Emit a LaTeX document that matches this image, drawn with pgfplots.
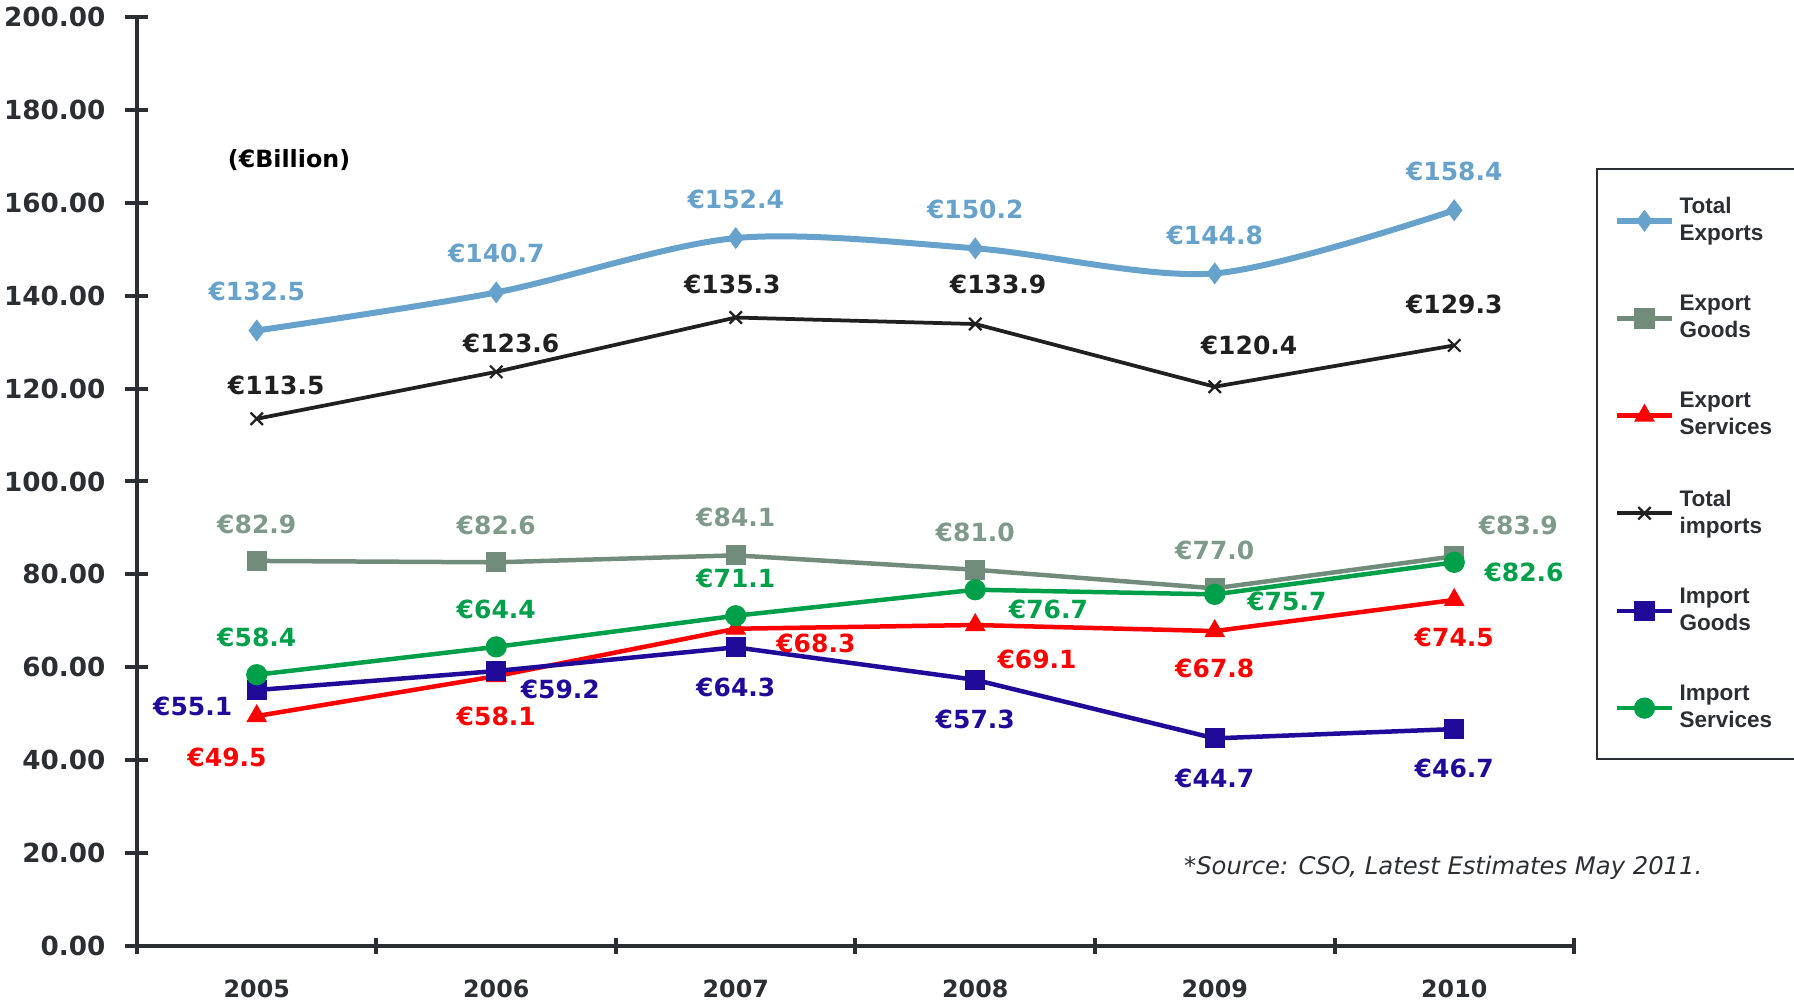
\documentclass[border=0pt]{standalone}
\usepackage{pgfplots}
\pgfplotsset{compat=1.18}
\usepackage{pgfplotstable}
\usepackage{fontspec}
\setmainfont{DejaVu Sans}
\newfontfamily\legfont{Liberation Sans}
\definecolor{axc}{HTML}{2B2E33}
\definecolor{te}{HTML}{66A2CC}
\definecolor{eg}{HTML}{728C7C}
\definecolor{egl}{HTML}{7E9A8A}
\definecolor{es}{HTML}{FF0000}
\definecolor{ti}{HTML}{202020}
\definecolor{ig}{HTML}{1F0A99}
\definecolor{is}{HTML}{00A04B}

% x y dx dy  (dx, dy: label offset in reference pixels, dy upwards)
\pgfplotstableread{
x y dx dy
0 132.5 0 34
1 140.7 0 34
2 152.4 0 34
3 150.2 0 34
4 144.8 0 33
5 158.4 0 34
}\te
\pgfplotstableread{
x y dx dy
0 82.9 0 32
1 82.6 0 32
2 84.1 0 33
3 81.0 0 33
4 77.0 0 33
5 83.9 56 27
}\eg
\pgfplotstableread{
x y dx dy
0 49.5 -26 -36
1 58.1 0 -35
2 68.3 70 -13
3 69.1 54 -30
4 67.8 0 -33
5 74.5 0 -33
}\es
\pgfplotstableread{
x y dx dy
0 113.5 17 29
1 123.6 13 25
2 135.3 -3 29
3 133.9 20 35
4 120.4 30 36
5 129.3 0 36
}\ti
\pgfplotstableread{
x y dx dy
0 55.1 -56 -14
1 59.2 56 -16
2 64.3 0 -35
3 57.3 0 -35
4 44.7 0 -35
5 46.7 0 -34
}\ig
\pgfplotstableread{
x y dx dy
0 58.4 0 33
1 64.4 0 33
2 71.1 0 33
3 76.7 64 -17
4 75.7 63 -6
5 82.6 61 -9
}\is

\pgfkeys{/pgf/number format/assume math mode=true}
\pgfplotsset{
  lbl/.style={
    point meta=explicit,
    nodes near coords={€\pgfmathprintnumber[fixed,fixed zerofill,precision=1]{\pgfplotspointmeta}},
    visualization depends on={\thisrow{dx}\as\dx},
    visualization depends on={\thisrow{dy}\as\dy},
    nodes near coords style={anchor=center,xshift=\dx*0.4577pt,yshift=\dy*0.4577pt,
      font=\bfseries\fontsize{10}{12}\selectfont,text=#1},
  },
}

\begin{document}
\begin{tikzpicture}
\useasboundingbox (-54.8pt,-22.8pt) rectangle (662.8pt,378.4pt);
\begin{axis}[
  scale only axis,width=574.8pt,height=371.6pt,
  axis lines*=left,
  axis line style={axc,line width=1.6pt},
  xmin=-0.5,xmax=5.5,ymin=0,ymax=200,
  xtick={-0.5,0.5,...,5.5},
  x tick label as interval,
  xticklabels={2005,2006,2007,2008,2009,2010},
  ytick={0,20,...,200},
  yticklabel={\pgfmathprintnumber[fixed,fixed zerofill,precision=2]{\tick}},
  tick align=center,
  tick style={axc,line width=1.6pt},
  xtick style={/pgfplots/major tick length=6.4pt},
  ytick style={/pgfplots/major tick length=9.2pt},
  xticklabel style={font=\bfseries\fontsize{9.5}{11}\selectfont,text=axc,yshift=-8pt},
  yticklabel style={font=\bfseries\fontsize{10.5}{12}\selectfont,text=axc,xshift=-7pt},
  clip=false,
  legend style={at={(1.0153,0.8375)},anchor=north west,draw=axc,line width=0.8pt,
    font=\legfont\bfseries\fontsize{9}{10.8}\selectfont,text=axc,
    cells={align=left,inner xsep=1pt},
    row sep=16.4pt,column sep=0pt,inner xsep=7pt,inner ysep=9.3pt},
  legend cell align=left,
  legend image code/.code={\draw[mark repeat=2,mark phase=2] plot coordinates {(0cm,0cm) (0.38cm,0cm) (0.76cm,0cm)};},
]
\addplot[te,line width=2.4pt,smooth,mark=diamond*,mark size=4pt,mark options={solid,line width=0.5pt},lbl=te]
  table[x=x,y=y,meta=y]{\te};
\addlegendentry{Total\\Exports}
\addplot[eg,line width=1.8pt,mark=square*,mark size=3.8pt,mark options={line width=0.5pt},lbl=egl]
  table[x=x,y=y,meta=y]{\eg};
\addlegendentry{Export\\Goods}
\addplot[es,line width=1.8pt,mark=triangle*,mark size=4.3pt,mark options={line width=0.5pt},lbl=es]
  table[x=x,y=y,meta=y]{\es};
\addlegendentry{Export\\Services}
\addplot[ti,line width=1.5pt,mark=x,mark size=3.5pt,mark options={line width=0.9pt},lbl=ti]
  table[x=x,y=y,meta=y]{\ti};
\addlegendentry{Total\\imports}
\addplot[ig,line width=1.8pt,mark=square*,mark size=3.8pt,mark options={line width=0.5pt},lbl=ig]
  table[x=x,y=y,meta=y]{\ig};
\addlegendentry{Import\\Goods}
\addplot[is,line width=1.8pt,mark=*,mark size=4pt,mark options={line width=0.5pt},lbl=is]
  table[x=x,y=y,meta=y]{\is};
\addlegendentry{Import\\Services}
\node[font=\bfseries\fontsize{9.5}{11}\selectfont,text=black] at (rel axis cs:0.1058,0.846) {(€Billion)};
\node[font=\itshape\fontsize{9.7}{11}\selectfont,text=axc] at (rel axis cs:0.909,0.084) {*Source: CSO, Latest Estimates May 2011.};
\end{axis}
\end{tikzpicture}
\end{document}
